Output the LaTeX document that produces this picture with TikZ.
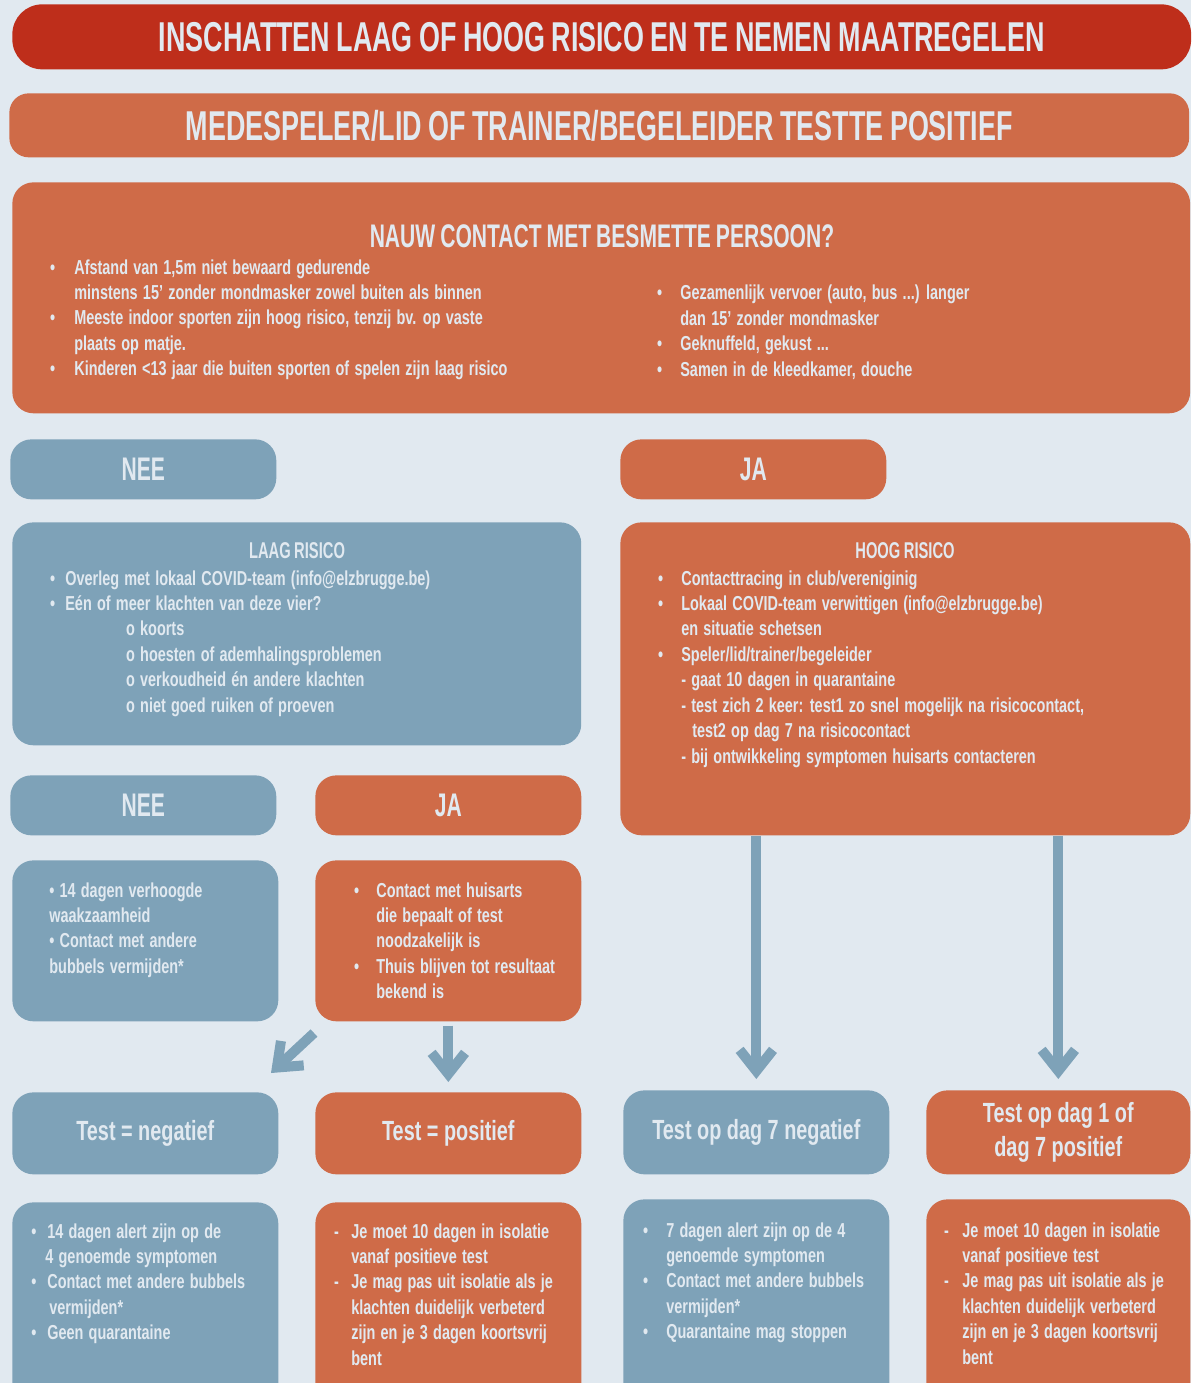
\documentclass[tikz,border=0pt]{standalone}
\usepackage{fontspec}
\setmainfont{Liberation Sans}[FakeStretch=0.715, UprightFont=*-Bold, WordSpace=1.3]
\newfontfamily\headfont{Liberation Sans}[FakeStretch=0.645, UprightFont=*-Bold, WordSpace=0.85]
\newfontfamily\labelfont{Liberation Sans}[FakeStretch=0.715, UprightFont=*-Bold, WordSpace=1.0]
\usepackage{tikz}
\usetikzlibrary{arrows.meta,positioning}
\usepackage{xcolor}
\definecolor{bgpale}{HTML}{E1E9F0}
\definecolor{titlered}{HTML}{BE2E1B}
\definecolor{riskorange}{HTML}{CF6B48}
\definecolor{riskblue}{HTML}{7EA2B8}
\newcommand{\bodyfont}{\fontsize{11.5pt}{14.5pt}\selectfont}
\newcommand{\titlefont}{\headfont\fontsize{23.75pt}{28pt}\selectfont}
\newcommand{\bigfont}{\headfont\fontsize{18.6pt}{22pt}\selectfont}
\newcommand{\riskfont}{\headfont\fontsize{13pt}{16pt}\selectfont}
\newcommand{\testfont}{\labelfont\fontsize{15.8pt}{19.8pt}\selectfont}
\newcommand{\bul}[1]{\leavevmode\llap{•\hspace{#1}}}
\newcommand{\dsh}[1]{\leavevmode\llap{-\hspace{#1}}}
\tikzstyle{panel} = [rounded corners=12pt, inner sep=0pt, anchor=north west, text=bgpale]
\tikzstyle{bluepanel} = [panel, fill=riskblue]
\tikzstyle{orangepanel} = [panel, fill=riskorange]
\tikzstyle{bodytext} = [anchor=base west, inner sep=0pt, text=bgpale, align=flush left, text width=10cm, font=\bodyfont]
\tikzstyle{flow} = [draw=riskblue, line width=5.7pt, -{Straight Barb[length=12pt,width=19pt]}]

\begin{document}
\begin{tikzpicture}[x=0.02cm, y=-0.02cm]
\useasboundingbox (0,0) rectangle (1191,1383);
\clip (0,0) rectangle (1191,1383);
\fill[bgpale] (0,0) rectangle (1191,1383);

% headers
\node (title) [panel, fill=titlered, rounded corners=17pt, minimum width=23.58cm, minimum height=1.30cm, font=\titlefont] at (12,4) {INSCHATTEN LAAG OF HOOG RISICO EN TE NEMEN MAATREGELEN};
\node (subject) [orangepanel, rounded corners=11pt, minimum width=23.6cm, minimum height=1.28cm, font=\titlefont] at (9,93) {MEDESPELER/LID OF TRAINER/BEGELEIDER TESTTE POSITIEF};

% nauw contact
\node (contact) [orangepanel, minimum width=23.56cm, minimum height=4.62cm] at (12,182) {};
\node (contacthead) [anchor=base, inner sep=0pt, text=bgpale, font=\bigfont] at (602,247) {NAUW CONTACT MET BESMETTE PERSOON?};
\node (contactleft) [bodytext] at (74,274) {\bul{10.9pt}Afstand van 1,5m niet bewaard gedurende\\
minstens 15’ zonder mondmasker zowel buiten als binnen\\
\bul{10.9pt}Meeste indoor sporten zijn hoog risico, tenzij bv. op vaste\\
plaats op matje.\\
\bul{10.9pt}Kinderen <13 jaar die buiten sporten of spelen zijn laag risico};
\node (contactright) [bodytext] at (680,299.6) {\bul{10.4pt}Gezamenlijk vervoer (auto, bus ...) langer\\
dan 15’ zonder mondmasker\\
\bul{10.4pt}Geknuffeld, gekust ...\\
\bul{10.4pt}Samen in de kleedkamer, douche};

% nee / ja
\node (nee) [bluepanel, minimum width=5.32cm, minimum height=1.2cm, font=\bigfont] at (10,439) {NEE};
\node (ja) [orangepanel, minimum width=5.32cm, minimum height=1.2cm, font=\bigfont] at (620,439) {JA};

% laag risico
\node (laag) [bluepanel, minimum width=11.38cm, minimum height=4.46cm] at (12,522) {};
\node (laaghead) [anchor=base, inner sep=0pt, text=bgpale, font=\riskfont] at (297,558) {LAAG RISICO};
\node (laagtext) [bodytext] at (65,585) {\bul{5.8pt}Overleg met lokaal COVID-team (info@elzbrugge.be)\\
\bul{5.8pt}Eén of meer klachten van deze vier?\\
\hspace*{34.6pt}o koorts\\
\hspace*{34.6pt}o hoesten of ademhalingsproblemen\\
\hspace*{34.6pt}o verkoudheid én andere klachten\\
\hspace*{34.6pt}o niet goed ruiken of proeven};

% hoog risico
\node (hoog) [orangepanel, minimum width=11.4cm, minimum height=6.26cm] at (620,522) {};
\node (hooghead) [anchor=base, inner sep=0pt, text=bgpale, font=\riskfont] at (905,558) {HOOG RISICO};
\node (hoogtext) [bodytext] at (681,585) {\bul{10.4pt}Contacttracing in club/vereniginig\\
\bul{10.4pt}Lokaal COVID-team verwittigen (info@elzbrugge.be)\\
en situatie schetsen\\
\bul{10.4pt}Speler/lid/trainer/begeleider\\
- gaat 10 dagen in quarantaine\\
- test zich 2 keer: test1 zo snel mogelijk na risicocontact,\\
\hspace*{6.2pt}test2 op dag 7 na risicocontact\\
- bij ontwikkeling symptomen huisarts contacteren};

% klachten nee / ja
\node (neeb) [bluepanel, minimum width=5.32cm, minimum height=1.2cm, font=\bigfont] at (10,775) {NEE};
\node (jab) [orangepanel, minimum width=5.32cm, minimum height=1.2cm, font=\bigfont] at (315,775) {JA};
\node (needet) [bluepanel, minimum width=5.32cm, minimum height=3.22cm] at (12,860) {};
\node (needettext) [bodytext] at (49,897) {• 14 dagen verhoogde\\
waakzaamheid\\
• Contact met andere\\
bubbels vermijden*};
\node (jadet) [orangepanel, minimum width=5.32cm, minimum height=3.22cm] at (315,860) {};
\node (jadettext) [bodytext] at (376,897) {\bul{9.8pt}Contact met huisarts\\
die bepaalt of test\\
noodzakelijk is\\
\bul{9.8pt}Thuis blijven tot resultaat\\
bekend is};

% testresultaten
\node (testneg) [bluepanel, minimum width=5.32cm, minimum height=1.64cm, font=\testfont] at (12,1092) {Test = negatief};
\node (testpos) [orangepanel, minimum width=5.32cm, minimum height=1.64cm, font=\testfont] at (315,1092) {Test = positief};
\node (testneg7) [bluepanel, minimum width=5.32cm, minimum height=1.68cm, font=\testfont] at (623,1090) {Test op dag 7 negatief};
\node (testpos7) [orangepanel, minimum width=5.28cm, minimum height=1.68cm, font=\testfont, align=center] at (926,1090) {Test op dag 1 of\\ dag 7 positief};

\node (negdet) [bluepanel, minimum width=5.32cm, minimum height=4.6cm] at (12,1202) {};
\node (negdettext) [bodytext] at (47,1238) {\bul{6.2pt}14 dagen alert zijn op de\\
\hspace*{-1.1pt}4 genoemde symptomen\\
\bul{6.2pt}Contact met andere bubbels\\
\hspace*{1.1pt}vermijden*\\
\bul{6.2pt}Geen quarantaine};
\node (posdet) [orangepanel, minimum width=5.32cm, minimum height=4.6cm] at (315,1202) {};
\node (posdettext) [bodytext] at (351,1238) {\dsh{7.1pt}Je moet 10 dagen in isolatie\\
vanaf positieve test\\
\dsh{7.1pt}Je mag pas uit isolatie als je\\
klachten duidelijk verbeterd\\
zijn en je 3 dagen koortsvrij\\
bent};
\node (neg7det) [bluepanel, minimum width=5.32cm, minimum height=4.6cm] at (623,1199) {};
\node (neg7dettext) [bodytext] at (666,1237) {\bul{10.4pt}7 dagen alert zijn op de 4\\
genoemde symptomen\\
\bul{10.4pt}Contact met andere bubbels\\
vermijden*\\
\bul{10.4pt}Quarantaine mag stoppen};
\node (pos7det) [orangepanel, minimum width=5.28cm, minimum height=4.6cm] at (926,1199) {};
\node (pos7dettext) [bodytext] at (962,1237) {\dsh{7.7pt}Je moet 10 dagen in isolatie\\
vanaf positieve test\\
\dsh{7.7pt}Je mag pas uit isolatie als je\\
klachten duidelijk verbeterd\\
zijn en je 3 dagen koortsvrij\\
bent};

% pijlen
\coordinate (diagfrom) at (314,1033);
\coordinate (diagto) at (271,1073);
\draw [flow] (diagfrom) -- (diagto);
\draw [flow, shorten <=0.08cm, shorten >=0.2cm] (jadet.south) -- (testpos.north);
\draw [flow, shorten >=0.22cm] (hoog.south -| testneg7.north) -- (testneg7.north);
\draw [flow, shorten >=0.22cm] (hoog.south -| testpos7.north) -- (testpos7.north);
\end{tikzpicture}
\end{document}
